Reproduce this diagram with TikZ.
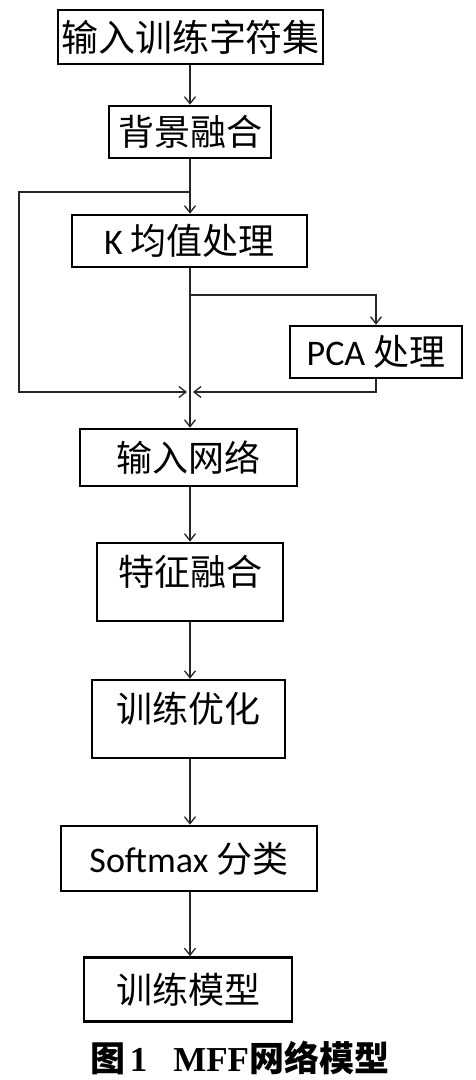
\documentclass[tikz,border=0pt]{standalone}
\usepackage{fontspec}
\setmainfont{Noto Sans CJK SC}
\newfontfamily\lat{Carlito}
\newfontfamily\tnr{Liberation Serif}
\newfontfamily\hei{Noto Sans CJK SC}
\usetikzlibrary{arrows.meta}
\begin{document}
\begin{tikzpicture}[x=1pt,y=-1pt,
  box/.style={draw=black,line width=2.6pt,fill=white,inner sep=0pt,font=\fontsize{36}{40}\selectfont},
  tallbox/.style={box,text height=42pt,text depth=36pt},
  ln/.style={draw=black!85,line width=1.3pt},
  arr/.style={ln,-{Straight Barb[length=7pt,width=11pt,line width=1.3pt]}}]
\useasboundingbox (0,0) rectangle (475,1080);
% boxes
\node[box,minimum width=265pt,minimum height=54pt,font=\fontsize{37}{40}\selectfont] (b1) at (190.5,37) {输入训练字符集};
\node[box,minimum width=162pt,minimum height=52pt] (b2) at (190,132) {背景融合};
\node[box,minimum width=235pt,minimum height=52pt] (b3) at (189.5,241) {{\lat K} 均值处理};
\node[box,minimum width=172pt,minimum height=52pt] (pca) at (376,352) {{\lat PCA} 处理};
\node[box,minimum width=217pt,minimum height=57pt] (b4) at (188.5,457.5) {输入网络};
\node[tallbox,minimum width=186pt] (b5) at (190,582) {特征融合};
\node[tallbox,minimum width=193pt] (b6) at (188.5,719) {训练优化};
\node[box,minimum width=256pt,minimum height=65pt] (b7) at (189,858.5) {{\lat Softmax} 分类};
\node[box,minimum width=208pt,minimum height=64pt] (b8) at (188,989.5) {训练模型};
\node[font=\fontsize{35}{38}\selectfont] (cap) at (240,1058) {{\hei\bfseries 图}\hspace{4pt}{\tnr\bfseries 1}\hspace{26pt}{\tnr\bfseries MFF}{\hei\bfseries 网络模型}};
% coordinates
\coordinate (split) at (190,192);
\coordinate (fbl) at (19,192);
\coordinate (fbb) at (19,392);
\coordinate (merge) at (190,392);
\coordinate (pb) at (190,295);
% connectors
\draw[arr] (b1.south -| split) -- (b2.north -| split);
\draw[arr] (b2.south -| split) -- (b3.north -| split);
\draw[arr,shorten >=3pt] (split) -- (fbl) -- (fbb) -- (merge);
\draw[arr] (pb) -| (pca.north);
\draw[arr,shorten >=3pt] (pca.south) |- (merge);
\draw[arr] (b3.south -| split) -- (b4.north -| split);
\draw[arr] (b4.south -| split) -- (b5.north -| split);
\draw[arr] (b5.south -| split) -- (b6.north -| split);
\draw[arr] (b6.south -| split) -- (b7.north -| split);
\draw[arr] (b7.south -| split) -- (b8.north -| split);
\end{tikzpicture}
\end{document}
